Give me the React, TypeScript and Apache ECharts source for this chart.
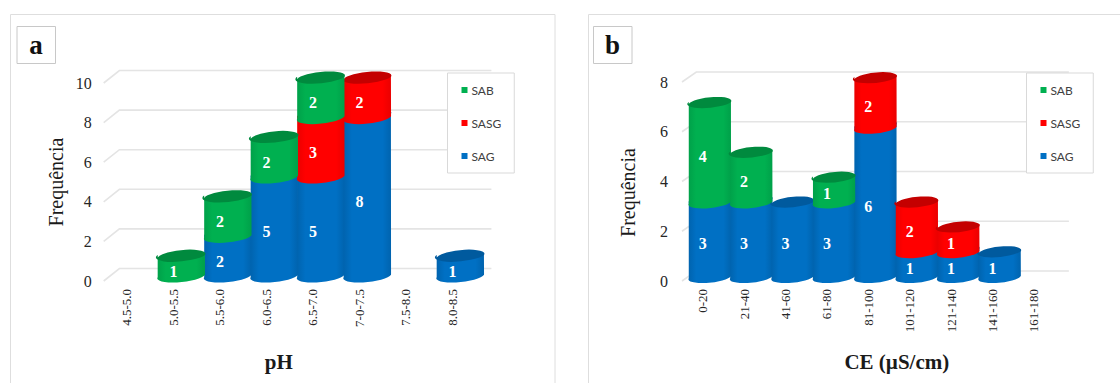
import React, { useEffect, useRef } from "react";
import * as echarts from "echarts";

const phCategories = ["4.5-5.0", "5.0-5.5", "5.5-6.0", "6.0-6.5", "6.5-7.0", "7-0-7.5", "7.5-8.0", "8.0-8.5"];
const phSAG = [0, 0, 2, 5, 5, 8, 0, 1];
const phSASG = [0, 0, 0, 0, 3, 2, 0, 0];
const phSAB = [0, 1, 2, 2, 2, 0, 0, 0];
const phTicks = [0, 2, 4, 6, 8, 10];

const ceCategories = ["0-20", "21-40", "41-60", "61-80", "81-100", "101-120", "121-140", "141-160", "161-180"];
const ceSAG = [3, 3, 3, 3, 6, 1, 1, 1, 0];
const ceSASG = [0, 0, 0, 0, 2, 2, 1, 0, 0];
const ceSAB = [4, 2, 0, 1, 0, 0, 0, 0, 0];
const ceTicks = [0, 2, 4, 6, 8];

const legendNames = ["SAB", "SASG", "SAG"];
const COLORS: Record<string, { side: string; edge: string; top: string }> = {
  SAG: { side: "#0070c4", edge: "#0063ae", top: "#005a9e" },
  SASG: { side: "#ff0000", edge: "#ea0000", top: "#c40000" },
  SAB: { side: "#00b050", edge: "#00a049", top: "#008a3e" },
};

const SERIF = "'Liberation Serif', serif";
const TILT = 6;

function gridSeries(name: string, idx: number, ticks: number[], depth: number[]) {
  return {
    type: "custom",
    name: "grid-" + name,
    xAxisIndex: idx,
    yAxisIndex: idx,
    silent: true,
    clip: false,
    z: 1,
    encode: { x: 0, y: 1 },
    data: ticks.map((t) => [0, t]),
    renderItem: (params: any, api: any) => {
      const y = api.coord([0, api.value(1)])[1];
      const r = params.coordSys;
      return {
        type: "polyline",
        shape: {
          points: [
            [r.x, y],
            [r.x + depth[0], y - depth[1]],
            [r.x + r.width + depth[0], y - depth[1]],
          ],
        },
        style: { stroke: "#e4e4e4", lineWidth: 1.6, fill: "none" },
      };
    },
  };
}

function cylinderSeries(
  name: string,
  idx: number,
  values: number[],
  bases: number[],
  above: number[],
  depth: number[],
  ry: number
) {
  const c = COLORS[name];
  const data = values
    .map((v, i) => [i, bases[i] + v, bases[i], v, above[i]])
    .filter((d) => d[3] > 0);
  return {
    type: "custom",
    name,
    xAxisIndex: idx,
    yAxisIndex: idx,
    clip: false,
    z: 3,
    itemStyle: { color: c.side },
    encode: { x: 0, y: 1 },
    data,
    renderItem: (_p: any, api: any) => {
      const cat = api.value(0);
      const top = api.coord([cat, api.value(1)]);
      const bottom = api.coord([cat, api.value(2)]);
      const mid = api.coord([cat, (api.value(1) + api.value(2)) / 2]);
      const covered = api.value(4) > 0;
      const band = api.size([1, 0])[0];
      const rx = (band + 1) / 2;
      const phi = (TILT * Math.PI) / 180;
      const cx = top[0] + depth[0] / 2;
      const yt = top[1] - depth[1] / 2;
      const yb = bottom[1] - depth[1] / 2;
      const ex = rx * Math.cos(phi);
      const ey = rx * Math.sin(phi);
      const arc = `A${rx} ${ry} ${-TILT} 0`;
      const topSweep = covered ? 0 : 1;
      const side = `M${cx - ex} ${yt + ey}L${cx - ex} ${yb + ey}${arc} 0 ${cx + ex} ${yb - ey}L${cx + ex} ${yt - ey}${arc} ${topSweep} ${cx - ex} ${yt + ey}Z`;
      const cap = `M${cx - ex} ${yt + ey}${arc} 1 ${cx + ex} ${yt - ey}${arc} 1 ${cx - ex} ${yt + ey}Z`;
      const children: any[] = [
        {
          type: "path",
          shape: { pathData: side },
          style: {
            fill: {
              type: "linear",
              x: 0,
              y: 0,
              x2: 1,
              y2: 0,
              colorStops: [
                { offset: 0, color: c.edge },
                { offset: 0.18, color: c.side },
                { offset: 0.82, color: c.side },
                { offset: 1, color: c.edge },
              ],
            },
          },
        },
      ];
      if (!covered) {
        children.push({ type: "path", shape: { pathData: cap }, style: { fill: c.top } });
      }
      children.push({
        type: "text",
        style: {
          text: String(api.value(3)),
          x: mid[0],
          y: mid[1],
          fill: "#ffffff",
          font: `bold 16px ${SERIF}`,
          textAlign: "center",
          textVerticalAlign: "middle",
        },
        z2: 5,
      });
      return { type: "group", children };
    },
  };
}

function sum(a: number[], b: number[]) {
  return a.map((v, i) => v + b[i]);
}

function panelSeries(idx: number, ticks: number[], sag: number[], sasg: number[], sab: number[], depth: number[], ry: number) {
  const zero = sag.map(() => 0);
  return [
    gridSeries(String(idx), idx, ticks, depth),
    cylinderSeries("SAG", idx, sag, zero, sum(sasg, sab), depth, ry),
    cylinderSeries("SASG", idx, sasg, sag, sab, depth, ry),
    cylinderSeries("SAB", idx, sab, sum(sag, sasg), zero, depth, ry),
  ];
}

function xAxis(gridIndex: number, data: string[], name: string, shift: number) {
  return {
    type: "category",
    gridIndex,
    data,
    name,
    nameLocation: "middle",
    nameGap: 70,
    nameMoveOverlap: false,
    nameTextStyle: { fontFamily: SERIF, fontWeight: "bold", fontSize: 21, color: "#1a1a1a", padding: [0, 0, 0, shift] },
    axisLine: { show: false },
    axisTick: { show: false },
    splitLine: { show: false },
    axisLabel: { interval: 0, rotate: 90, margin: 8, fontFamily: SERIF, fontSize: 13, color: "#262626" },
  };
}

function yAxis(gridIndex: number, max: number, gap: number, pad: number, margin: number) {
  return {
    type: "value",
    gridIndex,
    min: 0,
    max,
    interval: 2,
    name: "Frequência",
    nameLocation: "middle",
    nameGap: gap,
    nameMoveOverlap: false,
    nameTextStyle: { fontFamily: SERIF, fontSize: 20, color: "#1a1a1a", padding: [0, pad, 0, 0] },
    axisLine: { show: false },
    axisTick: { show: false },
    splitLine: { show: false },
    axisLabel: { margin, fontFamily: SERIF, fontSize: 16, color: "#262626" },
  };
}

function legend(left: number, top: number) {
  return {
    data: legendNames,
    orient: "vertical",
    left,
    top,
    icon: "rect",
    itemWidth: 6,
    itemHeight: 6,
    itemGap: 21,
    padding: [11, 13, 11, 14],
    backgroundColor: "#ffffff",
    borderColor: "#d9d9d9",
    borderWidth: 1,
    selectedMode: false,
    textStyle: { fontFamily: "Lato", fontSize: 12, color: "#404040", padding: [0, 0, 0, -1] },
  };
}

function frame(x: number, w: number) {
  return {
    type: "rect",
    shape: { x, y: 14.5, width: w, height: 400 },
    style: { fill: "#ffffff", stroke: "#dedede", lineWidth: 1 },
    z: -10,
  };
}

function badge(x: number, text: string) {
  return {
    type: "group",
    z: 10,
    children: [
      { type: "rect", shape: { x, y: 26.5, width: 38.5, height: 37 }, style: { fill: "#ffffff", stroke: "#c8c8c8", lineWidth: 1 } },
      {
        type: "text",
        style: {
          text,
          x: x + 19,
          y: 45,
          fill: "#111111",
          font: `bold 27px ${SERIF}`,
          textAlign: "center",
          textVerticalAlign: "middle",
        },
      },
    ],
  };
}

export default function App() {
  const ref = useRef<HTMLDivElement>(null);
  useEffect(() => {
    const chart = echarts.init(ref.current!, null, { renderer: "svg" });
    chart.setOption({
      animation: false,
      backgroundColor: "#ffffff",
      graphic: { elements: [frame(10.5, 544.5), frame(588.5, 560), badge(17, "a"), badge(593.5, "b")] },
      legend: [legend(447.5, 73), legend(1026.5, 73)],
      grid: [
        { left: 103.7, top: 83, width: 372, height: 198 },
        { left: 682, top: 82, width: 372.6, height: 199 },
      ],
      xAxis: [xAxis(0, phCategories, "pH", -22), xAxis(1, ceCategories, "CE (µS/cm)", 57)],
      yAxis: [yAxis(0, 10, 38, 0, 12), yAxis(1, 8, 44, 22, 14)],
      series: [
        ...panelSeries(0, phTicks, phSAG, phSASG, phSAB, [15.7, 12.5], 6),
        ...panelSeries(1, ceTicks, ceSAG, ceSASG, ceSAB, [14.3, 10], 5.5),
      ],
    });
    return () => chart.dispose();
  }, []);
  return <div ref={ref} style={{ position: "fixed", left: 0, top: 0, width: 1120, height: 383 }} />;
}
